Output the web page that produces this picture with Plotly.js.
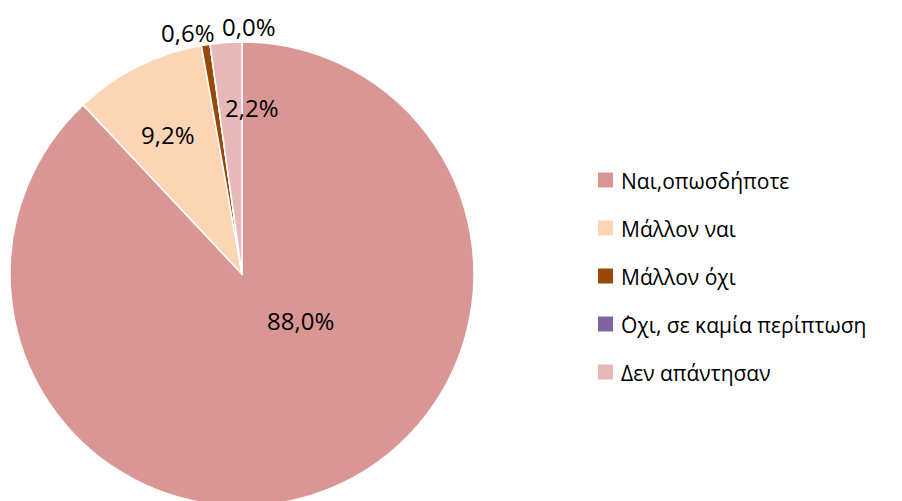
<!DOCTYPE html>
<html>
<head>
<meta charset="utf-8">
<script src="https://cdn.plot.ly/plotly-3.0.1.min.js"></script>
<style>
body{margin:0;overflow:hidden;background:#fff;}
#chart{width:902px;height:506px;}
</style>
</head>
<body>
<div id="chart"></div>
<script>
// απαντήσεις σε ποσοστά
const labels = ["Ναι,οπωσδήποτε", "Μάλλον ναι", "Μάλλον όχι", "΄Οχι, σε καμία περίπτωση", "Δεν απάντησαν"];
const values = [88.0, 9.2, 0.6, 0.0, 2.2];
const colors = ["#D99694", "#FCD5B5", "#984807", "#8064A2", "#E6B9B8"];

// where the data labels sit (pixels), like in the original sheet
const labelPos = [[300, 320], [168, 134], [188, 33], [249, 26], [252, 107]];

const W = 902, H = 506;
const font = "Open Sans, Noto Sans, sans-serif";

const data = [{
    type: "pie",
    labels: labels,
    values: values,
    sort: false,
    direction: "clockwise",
    rotation: 0,
    marker: {colors: colors, line: {color: "#ffffff", width: 1.5}},
    textinfo: "none",
    showlegend: false,
    hoverinfo: "label+value",
    domain: {x: [10 / W, 474 / W], y: [0, 464 / H]}
}];

const shapes = [];
const annotations = [];

// data labels
values.forEach(function(v, i){
    annotations.push({
        xref: "paper", yref: "paper",
        x: labelPos[i][0] / W, y: 1 - labelPos[i][1] / H,
        xanchor: "center", yanchor: "middle", showarrow: false,
        text: v.toFixed(1).replace(".", ",") + "%",
        font: {family: font, size: 24, color: "#000000"}
    });
});

// legend drawn by hand so the rows can be spaced like the original
labels.forEach(function(lab, i){
    const yc = 180 + i * 48;
    shapes.push({
        type: "rect", xref: "paper", yref: "paper",
        x0: 598 / W, x1: 613 / W, y0: 1 - (yc + 7.5) / H, y1: 1 - (yc - 7.5) / H,
        fillcolor: colors[i], line: {width: 0}
    });
    annotations.push({
        xref: "paper", yref: "paper", x: 619 / W, y: 1 - (yc + 1) / H,
        xanchor: "left", yanchor: "middle", showarrow: false,
        text: lab, font: {family: font, size: 21, color: "#000000"}
    });
});

const layout = {
    width: W, height: H,
    margin: {l: 0, r: 0, t: 0, b: 0},
    paper_bgcolor: "#ffffff",
    shapes: shapes,
    annotations: annotations
};

Plotly.newPlot("chart", data, layout, {displayModeBar: false, staticPlot: true});
</script>
</body>
</html>
